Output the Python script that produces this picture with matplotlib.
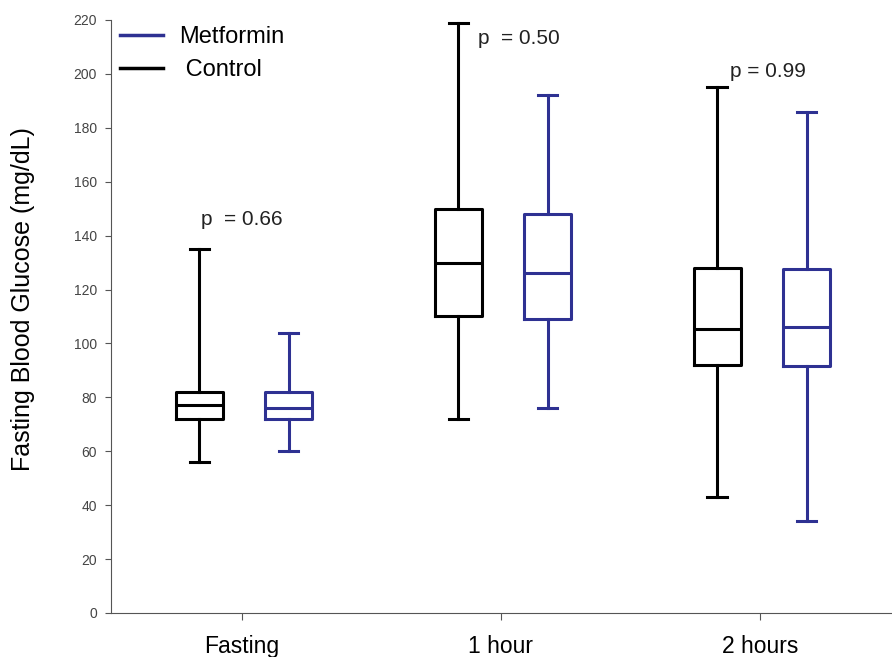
import matplotlib
matplotlib.use('Agg')
import matplotlib.pyplot as plt
from matplotlib.lines import Line2D

plt.rcParams['font.family'] = ['Liberation Sans', 'DejaVu Sans']

# data
groups = ['Fasting', '1 hour', '2 hours']
ctrl_low = [56, 72, 43]
ctrl_q1 = [72, 110, 92]
ctrl_med = [77, 130, 105.5]
ctrl_q3 = [82, 150, 128]
ctrl_high = [135, 219, 195]
met_low = [60, 76, 34]
met_q1 = [72, 109, 91.5]
met_med = [76, 126, 106]
met_q3 = [82, 148, 127.5]
met_high = [104, 192, 186]
p_labels = ['p  = 0.66', 'p  = 0.50', 'p = 0.99']
p_y = [146, 213, 201]
p_dx = [0.0, 0.07, 0.03]

blue = '#2e3192'

fig = plt.figure(figsize=(8.92, 6.57), dpi=100)
ax = fig.add_axes([0.1244, 0.067, 0.8756, 0.9026])

x = [1, 2, 3]


def stats(lo, q1, med, q3, hi):
    return [dict(whislo=a, q1=b, med=c, q3=d, whishi=e, fliers=[])
            for a, b, c, d, e in zip(lo, q1, med, q3, hi)]


for st, pos, col in [(stats(ctrl_low, ctrl_q1, ctrl_med, ctrl_q3, ctrl_high),
                      [p - 0.165 for p in x], 'black'),
                     (stats(met_low, met_q1, met_med, met_q3, met_high),
                      [p + 0.18 for p in x], blue)]:
    ax.bxp(st, positions=pos, widths=0.18, showfliers=False,
           boxprops=dict(color=col, lw=2.2),
           medianprops=dict(color=col, lw=2.2),
           whiskerprops=dict(color=col, lw=2.2),
           capprops=dict(color=col, lw=2.2),
           capwidths=0.075, manage_ticks=False)

for i in range(3):
    ax.text(x[i] + p_dx[i], p_y[i], p_labels[i], ha='center', va='center',
            fontsize=15, color='#222222')

ax.set_xlim(0.494, 3.51)
ax.set_ylim(0, 220)
ax.set_xticks(x)
ax.set_xticklabels(groups, fontsize=16.5)
ax.set_yticks(range(0, 221, 20))
ax.tick_params(axis='y', labelsize=10, labelcolor='#444444', length=4, color='#555555', pad=6)
ax.tick_params(axis='x', length=5, color='#555555', pad=11)
ax.spines['top'].set_visible(False)
ax.spines['right'].set_visible(False)
ax.spines['left'].set_color('#555555')
ax.spines['bottom'].set_color('#555555')
ax.set_ylabel('Fasting Blood Glucose (mg/dL)', fontsize=18)
ax.yaxis.set_label_coords(-0.097, 0.53)

handles = [Line2D([], [], color=blue, lw=2.5), Line2D([], [], color='black', lw=2.5)]
ax.legend(handles, ['Metformin', ' Control'], loc='upper left', frameon=False,
          fontsize=17, handlelength=1.8, handletextpad=0.7, labelspacing=0.45,
          bbox_to_anchor=(0.0, 1.005), borderaxespad=0.0)

fig.savefig('out.png', dpi=100)
